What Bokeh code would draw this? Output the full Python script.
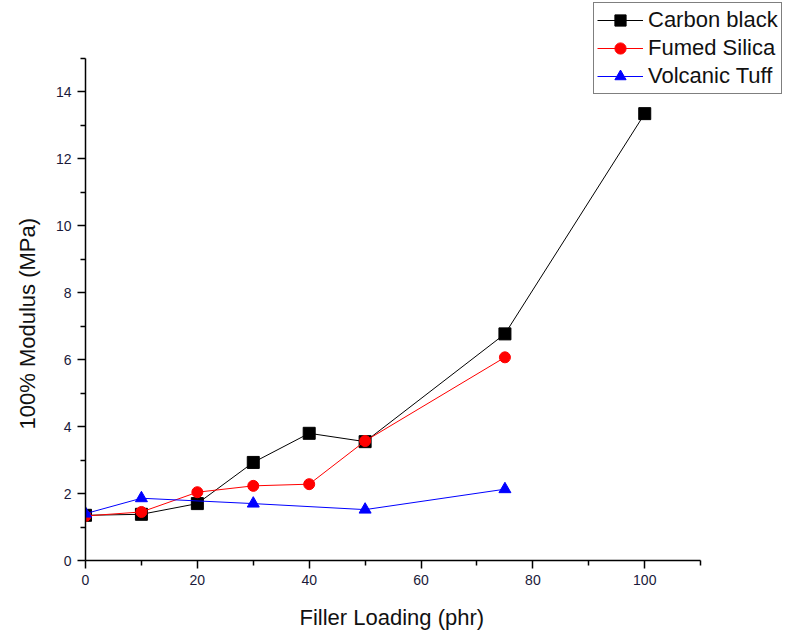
from bokeh.plotting import figure
from bokeh.models import Range1d, FixedTicker, Legend, LegendItem, Title
from bokeh.embed import file_html
from bokeh.resources import INLINE

# Data
cb_x = [0, 10, 20, 30, 40, 50, 75, 100]
cb_y = [1.35, 1.38, 1.70, 2.93, 3.80, 3.55, 6.77, 13.35]
fs_x = [0, 10, 20, 30, 40, 50, 75]
fs_y = [1.33, 1.45, 2.04, 2.23, 2.28, 3.57, 6.07]
vt_x = [0, 10, 30, 50, 75]
vt_y = [1.40, 1.86, 1.70, 1.52, 2.13]

x_major = [0, 20, 40, 60, 80, 100]
x_minor = [10, 30, 50, 70, 90, 110]
y_major = [0, 2, 4, 6, 8, 10, 12, 14]
y_minor = [1, 3, 5, 7, 9, 11, 13, 15]
x_bounds = (0, 110)
y_bounds = (0, 15)
x_title = "Filler Loading (phr)"
y_title = "100% Modulus (MPa)"

FONT = "Liberation Sans"

p = figure(width=793, height=645, output_backend="svg", toolbar_location=None,
           x_range=Range1d(0, 126.6), y_range=Range1d(0, 16.73),
           min_border_left=84, min_border_right=0, min_border_top=0, min_border_bottom=69)
p.xgrid.visible = False
p.ygrid.visible = False
p.outline_line_color = None
p.background_fill_color = "white"

for ax in (p.xaxis[0], p.yaxis[0]):
    ax.axis_line_color = "black"
    ax.axis_line_width = 1.5
    ax.major_tick_line_color = "black"
    ax.minor_tick_line_color = "black"
    ax.major_tick_line_width = 1.5
    ax.minor_tick_line_width = 1.5
    ax.major_tick_out = 8
    ax.major_tick_in = 0
    ax.minor_tick_out = 5
    ax.minor_tick_in = 0
    ax.major_label_text_font = FONT
    ax.major_label_text_font_size = "14px"
    ax.major_label_text_color = "#1a1a3a"

p.xaxis[0].ticker = FixedTicker(ticks=x_major, minor_ticks=x_minor)
p.yaxis[0].ticker = FixedTicker(ticks=y_major, minor_ticks=y_minor)
p.xaxis[0].bounds = x_bounds
p.yaxis[0].bounds = y_bounds
p.xaxis[0].major_label_standoff = 6
p.yaxis[0].major_label_standoff = 6

xt = Title(text=x_title, align="left", offset=214, standoff=31,
           text_font=FONT, text_font_size="22px", text_font_style="normal",
           text_color="#111111")
p.add_layout(xt, "below")
yt = Title(text=y_title, align="left", offset=131, standoff=25,
           text_font=FONT, text_font_size="22px", text_font_style="normal",
           text_color="#111111")
p.add_layout(yt, "left")

l_cb = p.line(cb_x, cb_y, line_color="black", line_width=1)
s_cb = p.scatter(cb_x, cb_y, marker="square", size=12, fill_color="black", line_color="black")
l_fs = p.line(fs_x, fs_y, line_color="red", line_width=1)
s_fs = p.scatter(fs_x, fs_y, marker="circle", size=11, fill_color="red", line_color="red")
l_vt = p.line(vt_x, vt_y, line_color="blue", line_width=1)
s_vt = p.scatter(vt_x, vt_y, marker="triangle", size=12, fill_color="blue", line_color="blue")

legend = Legend(items=[
    LegendItem(label="Carbon black", renderers=[l_cb, s_cb]),
    LegendItem(label="Fumed Silica", renderers=[l_fs, s_fs]),
    LegendItem(label="Volcanic Tuff", renderers=[l_vt, s_vt]),
], location=(508, 466))
legend.border_line_color = "black"
legend.border_line_width = 1.5
legend.background_fill_color = "white"
legend.background_fill_alpha = 1
legend.label_text_font = FONT
legend.label_text_font_size = "22px"
legend.label_text_color = "#111111"
legend.glyph_width = 46
legend.glyph_height = 28
legend.label_height = 28
legend.label_standoff = 5
legend.spacing = 0
legend.padding = 3
legend.margin = 0
p.add_layout(legend, "center")

open("out.html", "w").write(file_html(p, INLINE))
